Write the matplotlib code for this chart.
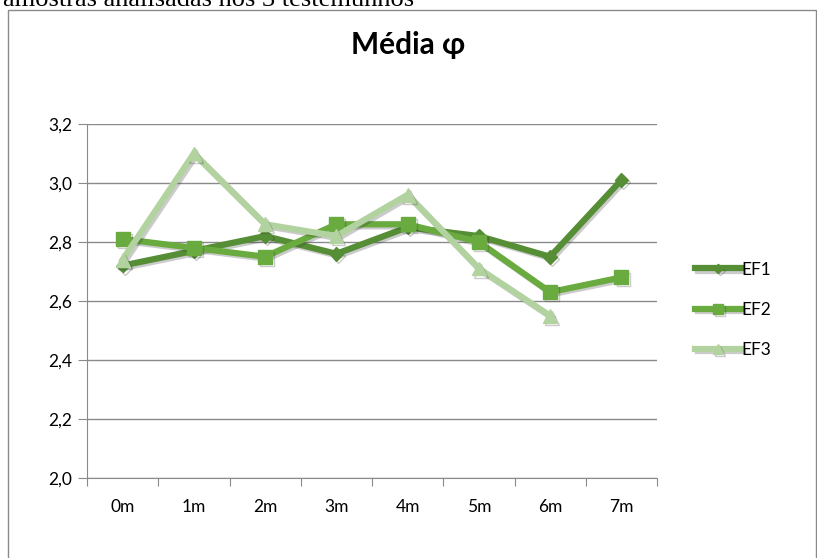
import matplotlib.pyplot as plt
import matplotlib.patheffects as pe
from matplotlib.patches import Rectangle
from matplotlib.ticker import FixedLocator, NullFormatter

plt.rcParams["font.family"] = ["Lato", "DejaVu Sans"]

categories = ["0m", "1m", "2m", "3m", "4m", "5m", "6m", "7m"]
ef1 = [2.72, 2.77, 2.82, 2.76, 2.85, 2.82, 2.75, 3.01]
ef2 = [2.81, 2.78, 2.75, 2.86, 2.86, 2.80, 2.63, 2.68]
ef3 = [2.74, 3.10, 2.86, 2.82, 2.96, 2.71, 2.55]
y_ticks = [2.0, 2.2, 2.4, 2.6, 2.8, 3.0, 3.2]

series = [
    ("EF1", ef1, "#558e35", "D", 7),
    ("EF2", ef2, "#69ab3f", "s", 10),
    ("EF3", ef3, "#b2d39f", "^", 10),
]

fig = plt.figure(figsize=(8.17, 5.58), dpi=100)

# caption above the chart box, cut by the top of the page
fig.text(0.004, 1 - 6 / 558, "amostras analisadas nos 3 testemunhos", family="Liberation Serif",
         fontsize=19, ha="left", va="baseline")

# chart border
fig.patches.append(Rectangle((8 / 817, -0.01), 808 / 817, (548 / 558) + 0.01,
                             transform=fig.transFigure, fill=False,
                             edgecolor="#8a8a8a", linewidth=1.0))

ax = fig.add_axes([87 / 817, 1 - 478 / 558, 570 / 817, 354 / 558])

shadow = [pe.SimpleLineShadow(offset=(1.5, -1.5), alpha=0.25, shadow_color="#333333"), pe.Normal()]

for name, values, color, marker, ms in series:
    ax.plot(range(len(values)), values, color=color, linewidth=4.5, marker=marker,
            markersize=ms, markeredgecolor=color, label=name, path_effects=shadow,
            solid_joinstyle="miter")

ax.set_xlim(-0.5, 7.5)
ax.set_ylim(2.0, 3.2)
ax.set_yticks(y_ticks)
ax.set_yticklabels([f"{v:.1f}".replace(".", ",") for v in y_ticks], fontsize=12.5)
ax.yaxis.grid(True, color="#8a8a8a", linewidth=1.0)
ax.set_axisbelow(True)

ax.xaxis.set_major_locator(FixedLocator([i - 0.5 for i in range(len(categories) + 1)]))
ax.xaxis.set_major_formatter(NullFormatter())
ax.xaxis.set_minor_locator(FixedLocator(range(len(categories))))
ax.set_xticklabels(categories, minor=True, fontsize=12.5)
ax.tick_params(axis="x", which="minor", length=0, pad=15)
ax.tick_params(axis="x", which="major", length=6, color="#8a8a8a")
ax.tick_params(axis="y", length=6.5, color="#8a8a8a", pad=4)

for side in ("top", "right"):
    ax.spines[side].set_visible(False)
for side in ("left", "bottom"):
    ax.spines[side].set_color("#8a8a8a")

fig.text(408 / 817, 1 - 45 / 558, "Média φ", fontsize=21.5, fontweight="bold", ha="center", va="center")

leg = ax.legend(loc="center left", bbox_to_anchor=(1.04, 0.475), frameon=False, fontsize=12.5,
                handlelength=2.6, handletextpad=0.05, labelspacing=1.4, markerscale=0.7)

fig.savefig("out.png", dpi=100)
